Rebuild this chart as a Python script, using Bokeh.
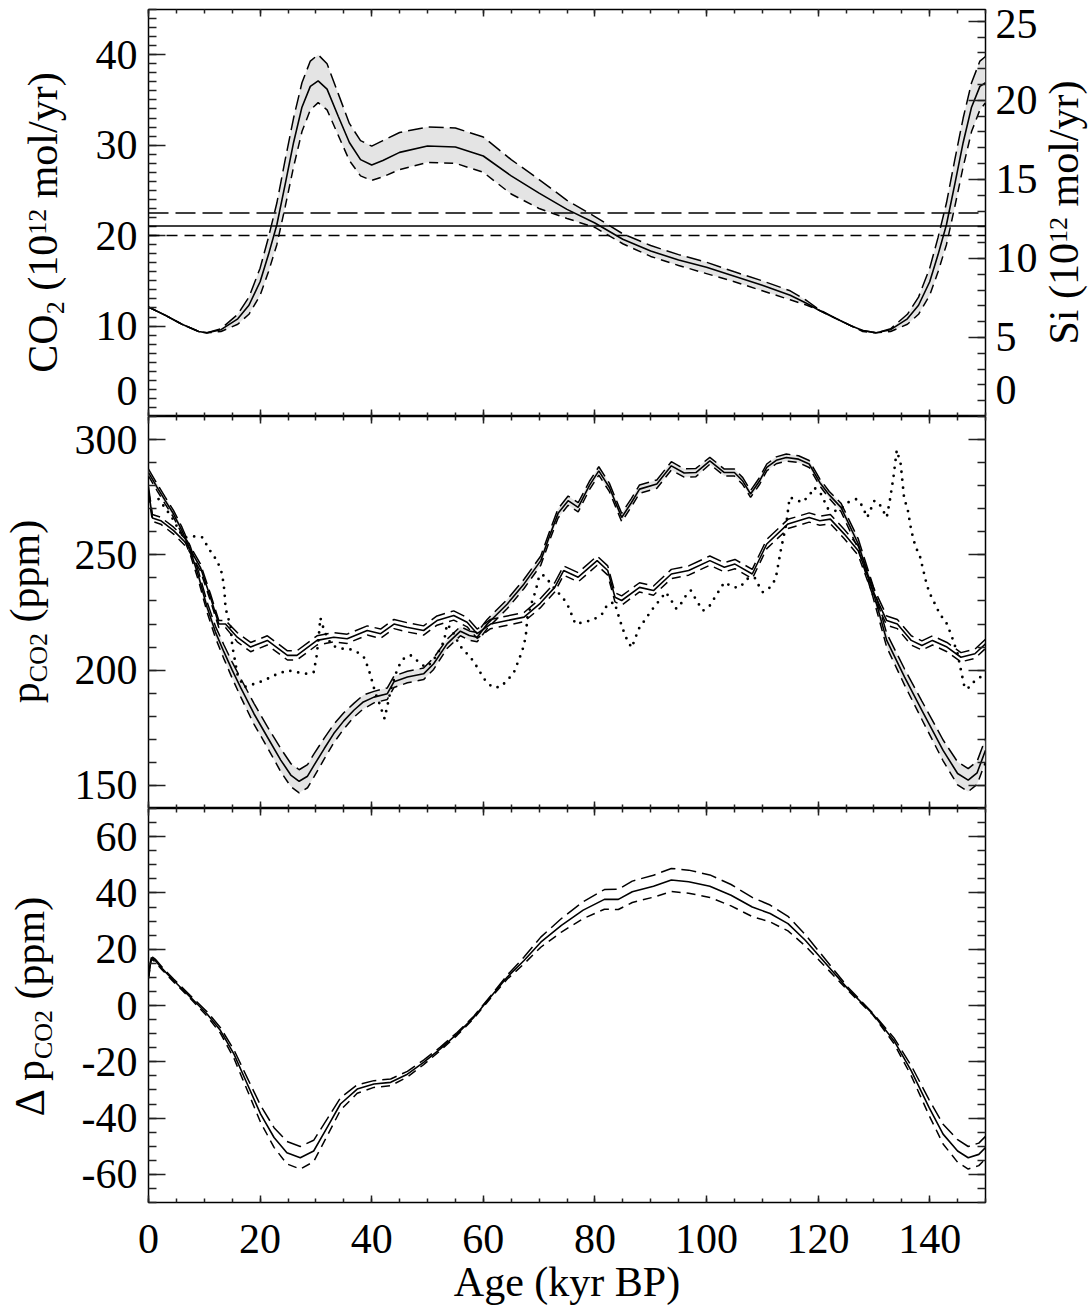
import math
from bokeh.plotting import figure
from bokeh.models import (LinearAxis, Range1d, SingleIntervalTicker, FixedTicker, Span,
                          CustomLabelingPolicy)
from bokeh.layouts import column, row
from bokeh.embed import file_html
from bokeh.resources import INLINE
from bokeh.core.properties import value

# ---------------- data ----------------
# top panel: CO2 / Si flux
top_age = [0, 3, 6, 9, 10.5, 13, 16, 18, 20, 21.5, 23, 24.5, 26, 27.5, 29, 30.4, 32, 34, 36, 38,
           40, 42, 45, 50, 55, 60, 65, 70, 75, 80, 85, 90, 95, 100, 105, 110, 115, 118, 120, 123,
           126, 128, 130.4, 133, 136, 138, 140, 141.5, 143, 144.5, 146, 147.5, 149, 150]
top_co2 = [12.1, 11.2, 10.2, 9.4, 9.25, 9.6, 10.8, 12.3, 14.9, 17.9, 21.2, 25.7, 30.3, 34.2, 36.5, 37.1, 36.2, 33.2, 30.3, 28.4,
           27.8, 28.3, 29.2, 29.9, 29.8, 28.8, 26.6, 24.7, 22.9, 21.4, 19.6, 18.3, 17.3, 16.5, 15.5, 14.5, 13.4, 12.5, 11.8, 10.9,
           10.0, 9.5, 9.25, 9.6, 10.8, 12.3, 14.9, 17.9, 21.2, 25.7, 30.3, 34.2, 36.5, 36.9]
top_co2_hi = [12.1, 11.2, 10.2, 9.4, 9.25, 9.7, 11.3, 13.2, 16.4, 19.8, 23.6, 28.4, 33.0, 36.9, 39.3, 40.0, 39.0, 35.7, 32.4, 30.5,
              29.9, 30.5, 31.4, 32.0, 31.9, 30.9, 28.4, 26.2, 23.9, 22.1, 20.2, 18.9, 17.9, 17.05, 16.0, 15.0, 13.9, 12.8, 11.9, 10.9,
              10.0, 9.5, 9.25, 9.7, 11.3, 13.2, 16.4, 19.8, 23.6, 28.4, 33.0, 36.9, 39.3, 39.8]
top_co2_lo = [12.1, 11.2, 10.2, 9.4, 9.25, 9.4, 10.2, 11.3, 13.4, 16.0, 19.0, 23.2, 27.6, 31.5, 33.9, 34.7, 33.9, 31.1, 28.3, 26.6,
              26.1, 26.5, 27.3, 28.1, 28.0, 27.0, 24.6, 23.0, 21.9, 20.9, 19.1, 17.7, 16.7, 15.8, 14.9, 13.9, 12.9, 12.3, 11.8, 10.9,
              10.0, 9.4, 9.25, 9.4, 10.2, 11.3, 13.4, 16.0, 19.0, 23.2, 27.6, 31.5, 33.9, 34.7]
co2_mean = 21.07
co2_mean_hi = 22.5
co2_mean_lo = 20.0

# middle panel: model pCO2 (large amplitude, with band)
a_age = [0, 1.5, 3, 4.5, 6, 7.5, 9, 10.5, 12, 13.5, 15, 16.5, 18.9, 21.3, 23.7, 25.5, 27, 28.5, 29.6, 31.5,
         33.2, 35, 36.8, 38.5, 40.4, 42.8, 44, 46.4, 49.3, 51.1, 53.5, 55.9, 57.5, 58.9, 60.7, 64.3, 67.3, 70.3, 72, 73.4,
         75.2, 77, 79, 80.7, 82.6, 84.8, 86.5, 88, 91.1, 93.7, 96, 98.1, 100.6, 103.2, 105, 106.5, 107.9, 109.5, 110.8, 112.5,
         114.3, 116.5, 118.4, 120.3, 122, 124.1, 127.2, 129.8, 132.3, 135.5, 138.6, 142.4, 145, 146.9, 148.5, 150]
a_ppm = [285.7, 279.5, 273.5, 267.7, 260.5, 251.8, 240.5, 227.3, 216.5, 208, 200, 192.5, 181.1, 171, 161, 154.5, 151.8, 154, 158.5, 166,
         172.5, 178, 182.6, 186.2, 188.3, 189.8, 195, 197, 198.4, 202.8, 211.4, 216.9, 215, 214.3, 220, 228.7, 237.4, 247.5, 259, 268,
         273.5, 270.6, 280, 286.4, 279.2, 266.2, 272.5, 278.5, 280.7, 288.6, 285.5, 285.7, 290.8, 285.7, 285.7, 282, 276.4, 282, 287.9, 291,
         292.2, 291.5, 289.4, 281.4, 276, 270.6, 254.7, 234.5, 212.9, 197, 182.6, 165.2, 155.2, 152.3, 155.5, 165.2]
a_err = [1.5, 1.5, 1.5, 1.5, 1.5, 1.8, 2, 2.2, 2.5, 3, 3.5, 4, 4.5, 4.5, 5, 5, 5, 5, 5, 4.5,
         4, 3.5, 3, 3, 2.5, 2.5, 2.5, 2.5, 2.5, 2.5, 2, 2, 2, 2, 2, 2, 2, 2, 2, 2,
         2, 2, 1.8, 1.8, 1.8, 1.8, 1.8, 1.8, 1.8, 1.8, 1.8, 1.8, 1.5, 1.5, 1.5, 1.5, 1.5, 1.5, 1.5, 1.5,
         1.5, 1.5, 1.5, 1.5, 1.5, 1.8, 2.2, 2.5, 3, 3.5, 4, 4.5, 5, 5, 5, 5]

# middle panel: model pCO2 (small amplitude)
b_age = [0, 0.7, 2.2, 4.5, 6.9, 9.3, 11.1, 12.6, 13.8, 15.9, 18.3, 21.3, 24.9, 26.6, 30.2, 33.2, 35.6, 39.2, 41.6, 44,
         46.3, 49.3, 51.7, 54.7, 57.1, 58.9, 61.3, 64.3, 67.3, 70.2, 72.8, 74.4, 77, 80.4, 82.3, 83.6, 84.8, 88, 90.5, 93.7,
         96.8, 100.6, 103.2, 105.1, 108.2, 110.8, 114.6, 118.4, 120.3, 122.2, 124.7, 127.2, 129.8, 132.3, 134.2, 136.7, 138.6, 140.5, 143.1, 145.6,
         148.1, 150]
b_ppm = [278, 266, 264.8, 260.5, 254.7, 244.6, 231.6, 220, 220, 214.3, 210, 212.9, 206.4, 206.4, 212.9, 214.3, 213.6, 217.2, 215.8, 220,
         218.6, 217.2, 221.5, 223.7, 220.8, 215.8, 220, 221.5, 223, 229, 235.9, 243.2, 240.3, 247.5, 243.2, 231.6, 230.2, 235.9, 234.5, 241.7,
         243.2, 247.5, 244.6, 246, 241.7, 254.7, 263.4, 266.2, 264.8, 265.5, 259, 251.8, 234.5, 221.5, 220, 212.9, 210.7, 212.9, 210, 205.6,
         207.1, 211.4]
b_err = [1.5] * 9 + [2.0] * 53

# middle panel: ice-core record (dotted)
c_age = [1.8, 2.9, 4.2, 5.7, 6.6, 8.1, 9.6, 10.5, 11.4, 12.3, 13.2, 13.6, 13.8, 14.2, 14.7, 15.0, 15.6, 15.9, 17.1, 18.9,
         20.7, 22.5, 24.9, 26.6, 28.4, 29.6, 30.1, 30.5, 30.8, 31.3, 32.0, 32.9, 34.4, 35.9, 37.4, 38.6, 39.2, 39.8, 40.2, 40.7,
         41.3, 41.8, 42.3, 42.7, 43.4, 44.3, 45.2, 46.0, 47.0, 48.1, 49.6, 50.5, 51.4, 52.3, 53.0, 53.5, 54.4, 55.3, 56.2, 57.7,
         58.9, 60.1, 61.6, 63.0, 64.3, 65.5, 66.1, 67.0, 67.6, 67.9, 68.8, 69.4, 69.9, 70.5, 71.4, 72.6, 74.4, 75.3, 76.5, 78.0,
         79.7, 81.3, 82.3, 83.5, 84.5, 85.1, 85.8, 86.6, 87.3, 88.0, 88.9, 89.9, 90.8, 91.8, 92.7, 93.7, 94.6, 95.6, 96.5, 97.2,
         98.4, 99.4, 100.6, 101.9, 103.2, 104.8, 106.0, 107.3, 108.6, 109.2, 110.1, 111.4, 112.4, 113.3, 114.3, 114.9, 115.8, 117.1, 118.4, 119.3,
         120.5, 121.8, 123.1, 124.4, 125.3, 126.9, 127.9, 128.8, 130.1, 131.0, 132.3, 132.9, 133.5, 134.1, 134.8, 135.4, 136.1, 136.7, 137.4, 138.3,
         139.3, 139.9, 140.8, 141.8, 143.1, 144.0, 145.0, 145.6, 146.3, 147.2, 148.1, 149.1, 150.0]
c_ppm = [274.2, 270.6, 266.2, 259.7, 257.5, 258, 257.6, 254, 250.4, 247.5, 241.7, 234.5, 227.3, 222.9, 220, 210.7, 202.8, 198.4, 192.6, 194,
         195.5, 197.7, 199.9, 199.1, 198.4, 199.1, 205.6, 214.3, 222.7, 218.6, 214.3, 210.7, 209.3, 209.3, 207.8, 205.6, 202, 197.7, 194, 189.8,
         186.1, 182.6, 179, 183.3, 191.2, 198.4, 203.5, 205.6, 206.4, 204.2, 201.3, 202.8, 205.6, 209.3, 212.9, 220, 217.2, 212.9, 209.3, 205.6,
         201.3, 196.3, 192.6, 192.6, 195.5, 199.1, 202.8, 208.5, 214.3, 222.9, 230.2, 234.5, 239.6, 241.7, 239.6, 235.9, 230.9, 227.3, 220, 220.8,
         221.8, 224.4, 228.7, 229.4, 221.5, 217.2, 212.9, 209.7, 214.3, 218.6, 221.5, 225.1, 228, 230.9, 233.8, 230.2, 226.6, 229.4, 233.1, 234.5,
         229.4, 225.8, 228, 233.1, 238.1, 235.9, 235.9, 239.6, 240.3, 237.4, 233.8, 235.9, 239.6, 251.8, 263.4, 274.9, 274.2, 272.7, 275.6, 279.2,
         276.4, 269.9, 269.1, 270.6, 272.7, 274.2, 271.3, 266.2, 273.5, 272, 266.2, 274.2, 283.6, 295.4, 289.4, 274.9, 269.1, 260.5, 254, 248.9,
         238.8, 233.8, 229.4, 224.4, 220, 214.3, 207.1, 199.9, 191.9, 192.6, 195.5, 197, 198.4]

# bottom panel: delta pCO2
d_age = [0, 0.5, 1.2, 2.5, 4.5, 7.5, 10.5, 12.9, 15.3, 17.7, 20.1, 22.5, 24.8, 27.2, 29.6, 32, 34.4, 37.4, 40.4, 43.4,
         46.4, 49.3, 52.3, 55.3, 58.3, 61.3, 64.3, 67.3, 70.3, 74, 77.9, 81.7, 84.2, 86.7, 90.5, 93.7, 96.8, 100.6, 104.4, 108.2,
         111.4, 114.6, 117.7, 120.9, 125.3, 129.8, 133.6, 136.7, 139.9, 142.4, 145, 146.9, 148.8, 150]
d_ppm = [10, 17, 16, 13, 8.9, 3.0, -3.0, -8.9, -17.2, -27.9, -38.6, -46.9, -52.3, -54.1, -51.7, -43.4, -35, -29.7, -27.9, -27.3,
         -24.4, -20.2, -15.4, -10.1, -4.2, 3.0, 10.1, 16.0, 22.5, 28.5, 33.9, 37.7, 37.7, 40.4, 42.4, 44.6, 44, 42.4, 39.2, 35,
         32.7, 29.1, 23.2, 16.0, 6.0, -3.0, -12.5, -23.2, -36.3, -45.7, -51.7, -54.1, -52.9, -50.5]
d_err = [0.5, 0.5, 0.5, 0.5, 0.5, 0.5, 0.8, 1.0, 1.5, 2.2, 3.0, 3.5, 4.0, 4.0, 3.8, 3.0, 2.2, 1.5, 1.2, 1.2,
         1.0, 0.8, 0.6, 0.5, 0.4, 0.4, 0.7, 1.2, 1.8, 2.4, 3.0, 3.5, 3.6, 3.8, 3.9, 4.1, 4.1, 4.0, 3.8, 3.4,
         3.0, 2.6, 2.0, 1.4, 0.6, 0.3, 1.0, 1.8, 2.8, 3.5, 4.0, 4.0, 4.0, 4.0]

# tick-label texts (the bottom "0" labels sit above their tick, as in the reference)
co2_label_ticks = [2.85, 10, 20, 30, 40]
co2_label_text = {2.85: "0"}
si_label_ticks = [1.65, 5, 10, 15, 20, 24.85]
si_label_text = {1.65: "0", 24.85: "25"}
dp_label_text = {-20: "-20", -40: "-40", -60: "-60"}

# ---------------- styling helpers ----------------
FONT = "Liberation Serif"
FS = 42
SUB = 26
BAND = "#e4e4e4"
DASH_HI = "15 6"
DASH_LO = "9 6"
LEFT_W = 70
RIGHT_W = 50
MAIN_W = 1091 - LEFT_W - RIGHT_W
TOTAL_H = 1312
MID_EM = 0.3375   # distance (in em) from alphabetic baseline to em-box middle

WID = {' ': 250, '(': 333, ')': 333, '/': 278, 'C': 667, 'O': 722, 'S': 556, 'i': 278, 'm': 778,
       'o': 500, 'l': 278, 'y': 500, 'r': 333, 'p': 500, 'Δ': 612}


def tw(s, size):
    return sum(WID.get(ch, 500) for ch in s) * size / 1000.0


def base_fig(h, yr, top, bottom):
    p = figure(width=MAIN_W, height=h, x_range=Range1d(0, 150), y_range=Range1d(*yr),
               output_backend="svg", toolbar_location=None,
               x_axis_location=None, y_axis_location=None,
               min_border_left=148 - LEFT_W, min_border_right=1091 - RIGHT_W - 985,
               min_border_top=top, min_border_bottom=bottom)
    p.grid.visible = False
    p.outline_line_color = "black"
    p.outline_line_width = 1.5
    p.background_fill_color = "white"
    p.border_fill_color = "white"
    return p


def tick_axis(p, side, interval, nminor, major_len, minor_len, range_name=None,
              labels=False, standoff=10, overrides=None):
    ax = LinearAxis(ticker=SingleIntervalTicker(interval=interval, num_minor_ticks=nminor))
    if range_name:
        ax.y_range_name = range_name
    ax.axis_line_color = None
    ax.major_tick_in = major_len
    ax.major_tick_out = 0
    ax.minor_tick_in = minor_len
    ax.minor_tick_out = 0
    ax.major_tick_line_color = "#222222"
    ax.minor_tick_line_color = "#222222"
    ax.major_tick_line_width = 1.5
    ax.minor_tick_line_width = 1.5
    if labels:
        ax.major_label_text_font = FONT
        ax.major_label_text_font_size = f"{FS}px"
        ax.major_label_text_color = "black"
        ax.major_label_standoff = standoff
        if overrides:
            ax.major_label_overrides = overrides
    else:
        ax.major_label_text_font_size = "0px"
        ax.major_label_standoff = 0
        ax.major_label_policy = CustomLabelingPolicy(code="return new Set()")
    p.add_layout(ax, side)
    return ax


def label_axis(p, side, ticks, overrides, standoff, range_name=None):
    ax = LinearAxis(ticker=FixedTicker(ticks=ticks))
    if range_name:
        ax.y_range_name = range_name
    ax.axis_line_color = None
    ax.major_tick_line_color = None
    ax.minor_tick_line_color = None
    ax.major_tick_in = 0
    ax.major_tick_out = 0
    ax.minor_tick_in = 0
    ax.minor_tick_out = 0
    ax.major_label_text_font = FONT
    ax.major_label_text_font_size = f"{FS}px"
    ax.major_label_text_color = "black"
    ax.major_label_standoff = standoff
    ax.major_label_overrides = overrides
    p.add_layout(ax, side)
    return ax


def band_lines(p, xs, mid, hi, lo, fill=True):
    if fill:
        p.varea(x=xs, y1=lo, y2=hi, fill_color=BAND, fill_alpha=1.0)
    p.line(xs, hi, line_color="black", line_width=1.5, line_dash=DASH_HI)
    p.line(xs, lo, line_color="black", line_width=1.5, line_dash=DASH_LO)
    p.line(xs, mid, line_color="black", line_width=1.6)


def title_fig(w):
    f = figure(width=w, height=TOTAL_H, x_range=Range1d(0, w), y_range=Range1d(0, TOTAL_H),
               output_backend="svg", toolbar_location=None,
               x_axis_location=None, y_axis_location=None, min_border=0)
    f.grid.visible = False
    f.outline_line_color = None
    f.background_fill_color = "white"
    f.border_fill_color = "white"
    return f


def vtitle(f, pieces, baseline_x, yc_from_top):
    """Vertical (bottom-to-top) title built from pieces (text, size, baseline shift)."""
    total = sum(tw(t, s) for t, s, _ in pieces)
    y = (TOTAL_H - yc_from_top) - total / 2.0
    for t, s, shift in pieces:
        body = t.lstrip(" ")
        lead = tw(t[:len(t) - len(body)], s)
        bx = baseline_x - shift              # rotated text: "up" is screen-left
        f.text(x=[bx - MID_EM * s], y=[y + lead], text=[body], angle=math.pi / 2,
               text_font=value(FONT), text_font_size=value(f"{s}px"),
               text_align="left", text_baseline="middle", text_color="black")
        y += tw(t, s)


# ---------------- top panel ----------------
p1 = base_fig(416, (0, 45), 9, 0)
p1.extra_y_ranges = {"si": Range1d(0, 25.75)}
band_lines(p1, top_age, top_co2, top_co2_hi, top_co2_lo)
p1.add_layout(Span(location=co2_mean, dimension="width", line_color="black", line_width=1.5))
p1.add_layout(Span(location=co2_mean_hi, dimension="width", line_color="black", line_width=1.5, line_dash="20 7"))
p1.add_layout(Span(location=co2_mean_lo, dimension="width", line_color="black", line_width=1.5, line_dash="11 7"))
tick_axis(p1, "left", 10, 10, 17, 8)
label_axis(p1, "left", co2_label_ticks, co2_label_text, 11)
tick_axis(p1, "right", 5, 5, 17, 8, range_name="si")
label_axis(p1, "right", si_label_ticks, si_label_text, 10, range_name="si")
tick_axis(p1, "above", 20, 4, 7, 4)
tick_axis(p1, "below", 20, 4, 7, 4)

# ---------------- middle panel ----------------
p2 = base_fig(392, (140, 310), 0, 0)
a_hi = [v + e for v, e in zip(a_ppm, a_err)]
a_lo = [v - e for v, e in zip(a_ppm, a_err)]
b_hi = [v + e for v, e in zip(b_ppm, b_err)]
b_lo = [v - e for v, e in zip(b_ppm, b_err)]
p2.varea(x=a_age, y1=a_lo, y2=a_hi, fill_color=BAND, fill_alpha=1.0)
p2.line(c_age, c_ppm, line_color="black", line_width=2.8, line_dash="0 8", line_cap="round")
band_lines(p2, a_age, a_ppm, a_hi, a_lo, fill=False)
band_lines(p2, b_age, b_ppm, b_hi, b_lo, fill=False)
tick_axis(p2, "left", 50, 5, 17, 8, labels=True, standoff=11)
tick_axis(p2, "right", 50, 5, 17, 8)
tick_axis(p2, "above", 20, 4, 7, 4)
tick_axis(p2, "below", 20, 4, 7, 4)

# ---------------- bottom panel ----------------
p3 = base_fig(504, (-70, 70), 0, 110)
d_hi = [v + e for v, e in zip(d_ppm, d_err)]
d_lo = [v - e for v, e in zip(d_ppm, d_err)]
band_lines(p3, d_age, d_ppm, d_hi, d_lo, fill=False)
tick_axis(p3, "left", 20, 4, 17, 8, labels=True, standoff=11, overrides=dp_label_text)
tick_axis(p3, "right", 20, 4, 17, 8)
tick_axis(p3, "above", 20, 4, 7, 4)
xax = tick_axis(p3, "below", 20, 4, 7, 4, labels=True, standoff=22)
xax.axis_label = "Age (kyr BP)"
xax.axis_label_text_font = FONT
xax.axis_label_text_font_size = f"{FS}px"
xax.axis_label_text_font_style = "normal"
xax.axis_label_text_color = "black"
xax.axis_label_standoff = 3

# ---------------- axis titles (side columns) ----------------
left = title_fig(LEFT_W)
vtitle(left, [("CO", FS, 0), ("2", SUB, -7), (" (10", FS, 0), ("12", SUB, 11), (" mol/yr)", FS, 0)], 57, 222)
vtitle(left, [("p", FS, 0), ("CO2", SUB, -8), (" (ppm)", FS, 0)], 39, 611)
vtitle(left, [("Δ p", FS, 0), ("CO2", SUB, -8), (" (ppm)", FS, 0)], 44, 1006)

right = title_fig(RIGHT_W)
vtitle(right, [("Si (10", FS, 0), ("12", SUB, 11), (" mol/yr)", FS, 0)], 1078 - (1091 - RIGHT_W), 212)

layout = row(left, column(p1, p2, p3, spacing=0), right, spacing=0)
open("out.html", "w").write(file_html(layout, INLINE))
